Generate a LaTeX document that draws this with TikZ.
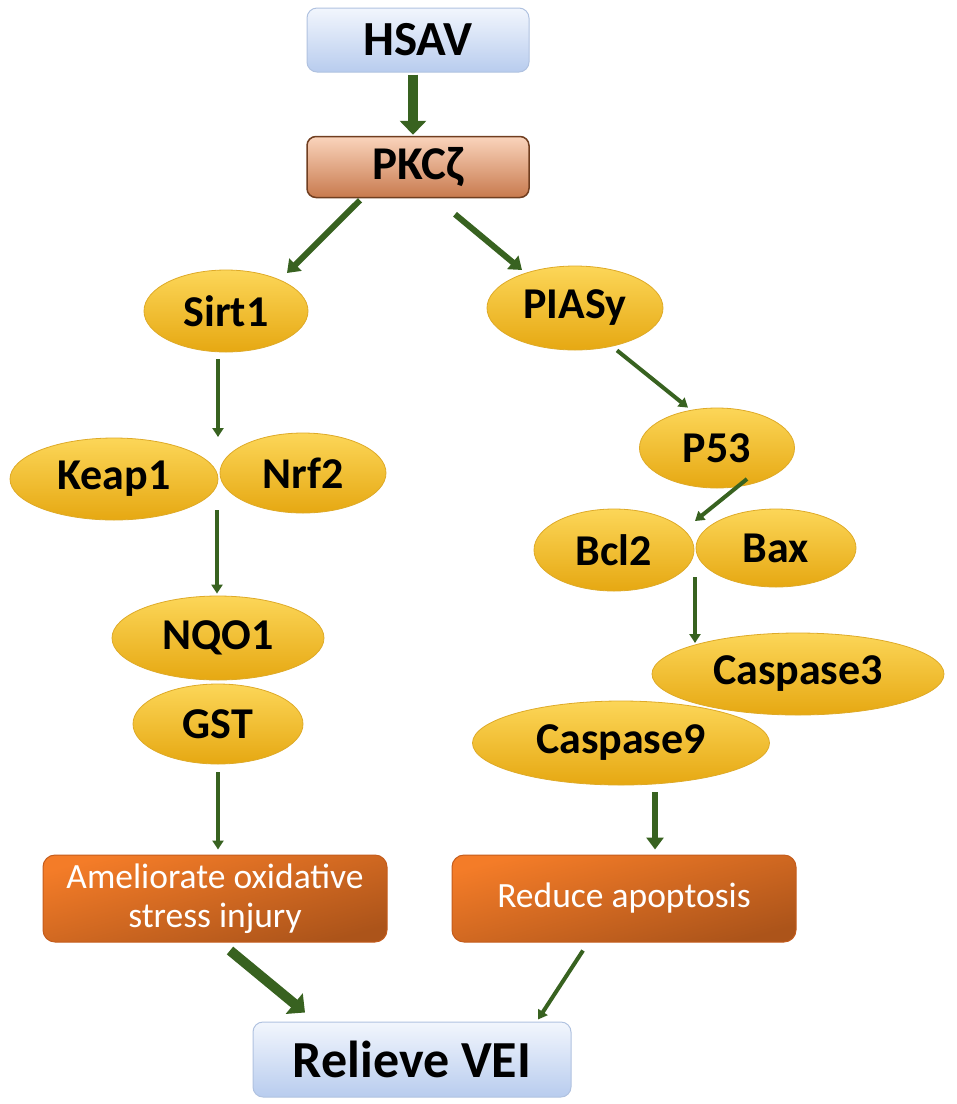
\documentclass[tikz,border=0pt]{standalone}
\usepackage{fontspec}
\setmainfont{Carlito}
\usetikzlibrary{shapes.geometric,arrows.meta}
\definecolor{arrgreen}{RGB}{56,98,32}
\definecolor{ellTop}{RGB}{252,214,88}
\definecolor{ellBot}{RGB}{230,168,18}
\definecolor{ellLine}{RGB}{222,170,40}
\definecolor{blueTop}{RGB}{242,246,253}
\definecolor{blueBot}{RGB}{184,204,238}
\definecolor{blueLine}{RGB}{176,194,224}
\definecolor{pkcTop}{RGB}{250,212,188}
\definecolor{pkcBot}{RGB}{200,122,78}
\definecolor{pkcLine}{RGB}{112,62,32}
\definecolor{orTop}{RGB}{244,124,40}
\definecolor{orBot}{RGB}{172,84,26}
\definecolor{orLine}{RGB}{196,92,28}
\begin{document}
\begin{tikzpicture}[x=1pt,y=-1pt,
  bluebox/.style={rectangle, rounded corners=10pt, draw=blueLine, line width=1pt,
    top color=blueTop, bottom color=blueBot, inner sep=0pt, font=\bfseries},
  pkcbox/.style={rectangle, rounded corners=9pt, draw=pkcLine, line width=1.5pt,
    top color=pkcTop, bottom color=pkcBot, inner sep=0pt, font=\bfseries\fontsize{47}{50}\selectfont},
  ell/.style={ellipse, draw=ellLine, line width=0.8pt, top color=ellTop, bottom color=ellBot,
    inner sep=0pt, font=\bfseries\fontsize{44}{46}\selectfont},
  orbox/.style={rectangle, rounded corners=12pt, draw=orLine, line width=1pt,
    top color=orTop, bottom color=orBot, shading angle=15, inner sep=0pt, text=white, align=center,
    minimum width=344pt, minimum height=87pt, font=\fontsize{35.5}{39}\selectfont},
  arrT/.style={draw=arrgreen, line width=10pt, -{Triangle[width=26pt,length=14pt]}},
  arrM/.style={draw=arrgreen, line width=6pt, -{Triangle[width=17pt,length=12pt]}},
  arrS/.style={draw=arrgreen, line width=4pt, -{Triangle[width=11pt,length=9pt]}}
]
\useasboundingbox (0,0) rectangle (957,1104);

% top boxes
\node[bluebox, minimum width=222pt, minimum height=64pt, font=\bfseries\fontsize{49}{52}\selectfont] (HSAV) at (418,40) {HSAV};
\node[pkcbox, minimum width=222pt, minimum height=61pt] (PKC) at (418,167) {PKCζ};

% left branch
\node[ell, minimum width=164pt, minimum height=82pt] (Sirt1) at (226,311) {Sirt1};
\node[ell, minimum width=208pt, minimum height=82pt] (Keap1) at (114,479) {Keap1};
\node[ell, minimum width=166pt, minimum height=80pt] (Nrf2) at (303,473) {Nrf2};
\node[ell, minimum width=212pt, minimum height=84pt] (NQO1) at (218,638) {NQO1};
\node[ell, minimum width=170pt, minimum height=80pt] (GST) at (218,724) {GST};

% right branch
\node[ell, minimum width=176pt, minimum height=84pt] (PIASy) at (575,308) {PIASy};
\node[ell, minimum width=155pt, minimum height=80pt] (P53) at (717,448) {P53};
\node[ell, minimum width=160pt, minimum height=82pt] (Bcl2) at (614,550) {Bcl2};
\node[ell, minimum width=160pt, minimum height=78pt] (Bax) at (776,548) {Bax};
\node[ell, minimum width=297pt, minimum height=84pt] (Casp9) at (621,743) {Caspase9};
\node[ell, minimum width=292pt, minimum height=82pt] (Casp3) at (798,674) {Caspase3};

% outcome boxes
\node[orbox] (Amel) at (215,898.5) {Ameliorate oxidative\\stress injury};
\node[orbox] (Reduce) at (624,898.5) {Reduce apoptosis};
\node[bluebox, minimum width=318pt, minimum height=75pt, font=\bfseries\fontsize{52}{55}\selectfont] (VEI) at (412,1059.5) {Relieve VEI};

% junction coordinates
\coordinate (knTop) at (218,437);
\coordinate (knBot) at (217,510);
\coordinate (bbTop) at (695,521);
\coordinate (bbBot) at (695,577);

% connectors
\draw[arrT] ([xshift=-5pt,yshift=-2pt]HSAV.south) -- ([xshift=-5pt,yshift=1pt]PKC.north);
\draw[arrM] ([xshift=-58pt,yshift=-2pt]PKC.south) -- ([xshift=61pt,yshift=38pt]Sirt1.center);
\draw[arrM] ([xshift=37pt,yshift=-16pt]PKC.south) -- ([xshift=-53pt,yshift=38pt]PIASy.center);
\draw[arrS] ([xshift=-8pt,yshift=-7pt]Sirt1.south) -- (knTop);
\draw[arrS] (knBot) -- ([xshift=-1pt,yshift=2pt]NQO1.north);
\draw[arrS] ([yshift=-8pt]GST.south) -- ([xshift=3pt,yshift=5pt]Amel.north);
\draw[arrS] ([xshift=42pt]PIASy.south) -- ([xshift=-29pt]P53.north);
\draw[arrS] ([xshift=30pt,yshift=-31pt]P53.center) -- (bbTop);
\draw[arrS] (bbBot) -- ([xshift=-103pt,yshift=31pt]Casp3.center);
\draw[arrM] ([xshift=34pt,yshift=-7pt]Casp9.south) -- ([xshift=31pt,yshift=5pt]Reduce.north);
\draw[arrT] ([xshift=15pt,yshift=-8pt]Amel.south) -- ([xshift=-107pt,yshift=9pt]VEI.north);
\draw[arrS] ([xshift=-41pt,yshift=-8pt]Reduce.south) -- ([xshift=126pt,yshift=2pt]VEI.north);
\end{tikzpicture}
\end{document}
